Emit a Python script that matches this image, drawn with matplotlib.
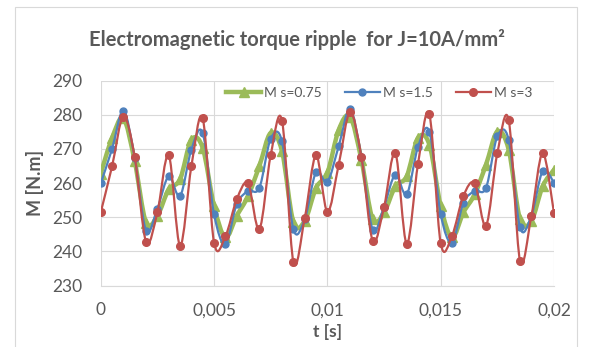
import matplotlib
matplotlib.use("Agg")
import matplotlib.pyplot as plt
from matplotlib.path import Path
from matplotlib.patches import PathPatch, Rectangle
from matplotlib.lines import Line2D
import numpy as np

plt.rcParams['font.family'] = ['Lato', 'DejaVu Sans']

# time axis: 41 samples, 0.5 ms step
t = [i * 0.0005 for i in range(41)]

m_075 = [262.8, 273.2, 279.0, 266.4, 248.4, 250.4, 258.2, 261.1, 272.7, 270.3,
         253.3, 244.1, 250.4, 256.2, 265.0, 274.7, 269.3, 248.6, 248.9, 258.6,
         263.0, 275.6, 279.5, 266.9, 249.4, 251.4, 259.1, 262.0, 273.2, 271.3,
         253.3, 244.1, 251.4, 256.7, 265.4, 275.1, 269.8, 249.4, 248.9, 259.1,
         263.9]
m_15 = [259.9, 270.0, 281.2, 267.4, 246.0, 252.5, 262.0, 256.2, 269.8, 274.7,
        250.9, 242.1, 253.8, 257.7, 258.6, 273.0, 272.2, 246.5, 249.4, 263.2,
        260.4, 270.8, 281.7, 267.7, 246.3, 253.1, 262.5, 256.7, 270.6, 275.1,
        250.9, 242.6, 254.2, 257.7, 258.6, 273.7, 272.7, 247.0, 250.4, 263.5,
        260.1]
m_3 = [251.4, 264.9, 279.5, 267.6, 242.8, 251.4, 268.2, 241.7, 264.9, 279.0,
       242.6, 244.4, 255.2, 259.9, 246.5, 268.2, 278.3, 237.0, 249.7, 268.1,
       251.6, 265.4, 280.8, 267.7, 243.1, 253.0, 268.8, 242.3, 265.6, 280.2,
       242.4, 244.6, 256.2, 259.9, 247.5, 268.8, 278.5, 237.3, 250.3, 268.8,
       251.2]

labels = ["M s=0.75", "M s=1.5", "M s=3"]
GREEN = "#9BBB59"
BLUE = "#4F81BD"
RED = "#C0504D"
GRAY = "#595959"


def smooth_path(x, y):
    # excel-like smoothed line: cubic bezier through the samples
    x = np.asarray(x); y = np.asarray(y)
    n = len(x)
    verts = [(x[0], y[0])]
    codes = [Path.MOVETO]
    for i in range(n - 1):
        p0 = i - 1 if i > 0 else i
        p3 = i + 2 if i + 2 < n else i + 1
        c1 = (x[i] + (x[i+1] - x[p0]) / 6, y[i] + (y[i+1] - y[p0]) / 6)
        c2 = (x[i+1] - (x[p3] - x[i]) / 6, y[i+1] - (y[p3] - y[i]) / 6)
        verts += [c1, c2, (x[i+1], y[i+1])]
        codes += [Path.CURVE4] * 3
    return Path(verts, codes)


def main():
    fig = plt.figure(figsize=(5.9, 3.47), dpi=100)
    fig.patches.append(Rectangle((15 / 590, -0.05), 562 / 590, 1 - 7 / 347 + 0.05,
                                 transform=fig.transFigure, fill=False,
                                 edgecolor="#D9D9D9", linewidth=0.8))
    ax = fig.add_axes([0.1707, 0.1772, 0.7683, 0.5902])

    series = [(m_075, GREEN, "^", 3.2, 7, 2),
              (m_15, BLUE, "o", 1.6, 5, 3),
              (m_3, RED, "o", 1.6, 5.5, 4)]
    handles = []
    for (vals, col, mk, lw, ms, z), lab in zip(series, labels):
        patch = PathPatch(smooth_path(t, vals), facecolor="none", edgecolor=col,
                          linewidth=lw, zorder=z, capstyle="round", joinstyle="round")
        ax.add_patch(patch)
        ax.plot(t, vals, linestyle="none", marker=mk, markersize=ms,
                color=col, zorder=z)
        handles.append(Line2D([], [], color=col, linewidth=lw, marker=mk,
                              markersize=ms))

    ax.set_xlim(0, 0.02)
    ax.set_ylim(230, 290)
    ax.set_xticks([0, 0.005, 0.01, 0.015, 0.02])
    ax.set_xticklabels(["0", "0,005", "0,01", "0,015", "0,02"])
    ax.set_yticks(range(230, 291, 10))
    ax.grid(True, color="#D9D9D9", linewidth=0.8)
    ax.set_axisbelow(True)
    for s in ax.spines.values():
        s.set_visible(False)
    ax.spines["bottom"].set_visible(True)
    ax.spines["bottom"].set_color("#D9D9D9")
    ax.tick_params(length=0, labelsize=12.5, labelcolor=GRAY)
    ax.tick_params(axis="x", pad=12)
    ax.tick_params(axis="y", pad=13)

    ax.set_xlabel("t [s]", fontsize=12.5, fontweight="bold", color=GRAY, labelpad=4)
    ax.set_ylabel("M [N.m]", fontsize=13, fontweight="bold", color=GRAY, labelpad=6)

    fig.text(0.503, 0.885, "Electromagnetic torque ripple  for J=10A/mm²",
             ha="center", va="center", fontsize=14.5, fontweight="bold", color=GRAY)

    ax.legend(handles, labels, ncol=3, loc="center", bbox_to_anchor=(0.614, 0.94),
              frameon=False, fontsize=10, handlelength=2.5, handletextpad=0.2,
              columnspacing=1.7, labelcolor=GRAY)

    fig.savefig("out.png", dpi=100)


if __name__ == '__main__':
    main()
